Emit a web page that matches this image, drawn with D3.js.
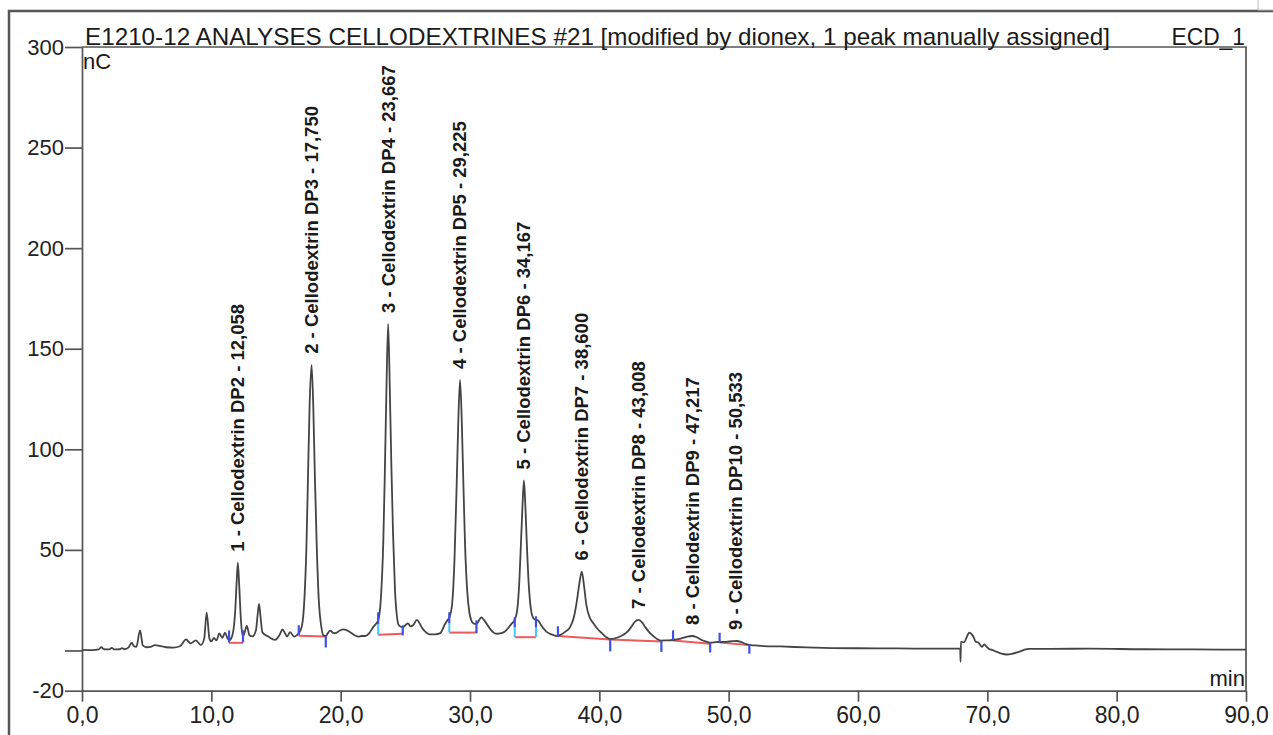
<!DOCTYPE html>
<html lang="fr">
<head>
<meta charset="UTF-8">
<title>E1210-12 ANALYSES CELLODEXTRINES #21 - ECD_1</title>
<script src="https://cdnjs.cloudflare.com/ajax/libs/d3/7.8.5/d3.min.js"></script>
<style>
  html, body { margin: 0; padding: 0; background: #fff; }
  svg { display: block; font-family: Arial, "Liberation Sans", sans-serif; }
  .axis path, .axis line { stroke: #555; stroke-width: 1.7; }
  .axis text { fill: #222; }
</style>
</head>
<body>
<svg id="chart" width="1273" height="735"></svg>
<script>
const trace = [
  [0.0,0.3],[0.8,0.2],[1.3,0.6],[1.5,1.6],[1.7,0.6],[2.1,0.5],[2.3,1.3],[2.5,0.5],[2.9,0.6],[3.1,1.2],
  [3.3,0.6],[3.6,1.5],[3.84,3.9],[4.0,2.2],[4.2,1.8],[4.49,10],[4.7,2.5],[5.0,1.6],[5.3,1.8],[5.65,2.7],
  [6.0,2.3],[6.5,1.6],[7.06,1.4],[7.6,2.2],[8.04,5.5],[8.4,3.5],[8.8,5.0],[9.2,2.7],[9.45,6],[9.64,18.8],
  [9.85,6],[10.0,4.5],[10.2,6.2],[10.4,5.0],[10.62,8.5],[10.85,6.3],[11.06,8.8],[11.25,6],[11.37,5],[11.6,7],
  [11.85,20],[11.95,33],[12.05,43.6],[12.15,33],[12.28,16],[12.43,7],[12.55,8.5],[12.74,12.2],[12.95,7.5],[13.2,7],
  [13.45,10],[13.6,19],[13.69,23.1],[13.8,17],[13.95,9],[14.4,6.9],[14.93,5.3],[15.3,8],[15.5,10.5],[15.7,8.5],
  [15.85,6.9],[16.09,9.1],[16.4,6.9],[16.6,7.5],[16.76,8.5],[17.0,12],[17.2,26],[17.35,51],[17.47,85],[17.6,122],
  [17.75,142],[17.88,122],[18.0,88],[18.15,52],[18.3,26],[18.5,12],[18.67,7.5],[18.85,7.2],[19.0,8.5],[19.2,9.9],
  [19.4,8.8],[19.6,8.6],[19.9,9.8],[20.2,10.5],[20.5,10],[20.8,8.8],[21.1,7.5],[21.37,6.9],[21.6,7.2],[21.9,7.2],
  [22.2,8.5],[22.5,11.5],[22.66,12.7],[22.9,15],[23.1,25],[23.3,55],[23.42,90],[23.54,130],[23.67,162.3],[23.8,130],
  [23.92,92],[24.05,58],[24.2,30],[24.35,17],[24.46,13],[24.65,11.8],[24.8,11.6],[25.0,12.5],[25.2,13.5],[25.4,12],
  [25.6,12.5],[25.9,15.2],[26.1,13.5],[26.3,11.2],[26.6,9],[26.9,8],[27.3,8],[27.7,8.6],[28.07,13.2],[28.25,15],
  [28.4,16.4],[28.6,22],[28.8,45],[28.98,85],[29.1,115],[29.23,134.5],[29.36,115],[29.48,85],[29.62,52],[29.78,30],
  [29.95,19],[30.1,15],[30.26,13.5],[30.5,13.2],[30.7,15],[30.87,16.5],[31.1,15],[31.5,11.2],[31.8,9],[32.07,8.3],
  [32.4,8.6],[32.7,9.4],[33.0,11.5],[33.2,13.2],[33.46,15.2],[33.65,20],[33.82,35],[33.95,55],[34.06,72],[34.17,84.5],
  [34.28,72],[34.4,52],[34.55,32],[34.7,21],[34.9,16],[35.1,15.2],[35.29,14.8],[35.5,12.5],[35.9,9.4],[36.3,8],
  [36.7,7.2],[37.0,7.8],[37.4,9.5],[37.74,11.6],[38.05,17],[38.25,24],[38.45,33],[38.64,39.2],[38.82,32],[39.0,22.5],
  [39.25,16.5],[39.54,13.5],[39.85,10.8],[40.2,8.6],[40.5,6.8],[40.84,5.6],[41.3,6.2],[41.86,7.8],[42.2,9.5],[42.5,12],
  [42.8,14.6],[43.03,15.2],[43.3,14],[43.55,11.6],[43.9,8.8],[44.2,7],[44.5,5.6],[44.8,4.9],[45.2,5],[45.7,5.2],
  [46.3,5.9],[46.8,6.9],[47.15,7.2],[47.5,6.7],[47.8,5.6],[48.2,4.5],[48.57,3.9],[49.0,4.1],[49.3,4.2],[49.8,4.3],
  [50.3,4.6],[50.63,4.7],[51.0,4.1],[51.4,3.0],[52.0,2.5],[52.7,2.2],[54.0,2.0],[56.0,1.5],[58.0,1.2],[60.0,1.1],
  [63.0,1.0],[66.0,0.9],[67.9,0.9],[67.93,-5.6],[67.96,4.4],[68.2,4.0],[68.4,6.5],[68.6,8.9],[68.8,8.0],[68.95,6.5],
  [69.1,4.4],[69.3,4.0],[69.5,2.3],[69.6,1.8],[69.75,3],[69.9,2.2],[70.1,0.9],[70.4,0.2],[70.7,-0.6],[71.1,-1.6],
  [71.5,-2.0],[71.9,-1.7],[72.3,-1.0],[72.8,0.2],[73.2,0.8],[75,0.8],[78,0.9],[82,0.6],[86,0.5],[90,0.4]
];

// pics identifiés
const peakNames = [
  "1 - Cellodextrin DP2 - 12,058", "2 - Cellodextrin DP3 - 17,750", "3 - Cellodextrin DP4 - 23,667",
  "4 - Cellodextrin DP5 - 29,225", "5 - Cellodextrin DP6 - 34,167", "6 - Cellodextrin DP7 - 38,600",
  "7 - Cellodextrin DP8 - 43,008", "8 - Cellodextrin DP9 - 47,217", "9 - Cellodextrin DP10 - 50,533"
];
const peakTimes   = [12.058, 17.750, 23.667, 29.225, 34.167, 38.600, 43.008, 47.217, 50.533];
const peakHeights = [43.6, 142, 162.3, 134.5, 84.5, 39.2, 15.2, 7.2, 4.7];

// lignes de base d'intégration (rouge)
const baseStartT = [11.37, 16.76, 22.9, 28.4, 33.46, 36.8, 40.84, 45.7, 49.3];
const baseStartV = [3.8, 7.3, 7.8, 8.9, 6.6, 7.2, 5.4, 5.0, 3.9];
const baseEndT   = [12.45, 18.85, 24.8, 30.5, 35.1, 40.84, 44.8, 48.57, 51.6];
const baseEndV   = [3.8, 6.9, 8.3, 8.9, 6.6, 5.4, 4.4, 3.4, 2.7];

// repères de début/fin (bleu) : temps, bas, haut, ligne de base
const markT  = [11.37, 12.45, 16.76, 18.85, 22.9, 24.8, 28.4, 30.5, 33.46, 35.1, 36.8, 40.84, 44.8, 45.7, 48.57, 49.3, 51.6];
const markLo = [4, 4, 7.5, 1.5, 13, 7.5, 13.5, 8.6, 11.6, 11.5, 7, -0.5, -0.7, 5.2, -1, 4, -1.6];
const markHi = [10, 10, 12.5, 7, 19, 12.5, 19, 15, 16.5, 17, 12, 5.6, 4.5, 10, 3.9, 8.8, 3];
const markBase = [3.8, 3.8, 7.3, 6.9, 7.8, 8.3, 8.9, 8.9, 6.6, 6.6, 7.2, 5.4, 4.4, 5.0, 3.4, 3.9, 2.7];

const xMajor = [0, 10, 20, 30, 40, 50, 60, 70, 80, 90];
const yMajor = [-20, 0, 50, 100, 150, 200, 250, 300];
const yLabels = ["-20", "", "50", "100", "150", "200", "250", "300"];

const titleText = "E1210-12 ANALYSES  CELLODEXTRINES #21 [modified by dionex, 1 peak manually assigned]";
const channelText = "ECD_1";

// --- dessin ---
const svg = d3.select("#chart");
const x = d3.scaleLinear().domain([0, 90]).range([82, 1246]);
const y = d3.scaleLinear().domain([-20, 300]).range([690.7, 47]);

// cadre extérieur
svg.append("path")
  .attr("d", "M9,735 L9,11 L1273,11")
  .attr("fill", "none").attr("stroke", "#555").attr("stroke-width", 2.5);
svg.append("rect").attr("x", 1258).attr("y", -2).attr("width", 16).attr("height", 12)
  .attr("fill", "#fff").attr("stroke", "#bbb");

const squeeze = (sel, k) => sel.each(function () {
  const w = this.getComputedTextLength();
  if (w > 0) d3.select(this).attr("textLength", w * k).attr("lengthAdjust", "spacingAndGlyphs");
});

// axes
const gy = svg.append("g").attr("class", "axis").attr("transform", `translate(${x(0)},0)`);
gy.call(d3.axisLeft(y).tickValues(d3.range(-20, 301, 10)).tickSize(7).tickSizeOuter(0).tickFormat(""));
gy.call(d3.axisLeft(y).tickValues(yMajor).tickSize(17).tickSizeOuter(0).tickPadding(1)
  .tickFormat((d, i) => yLabels[i]));
gy.selectAll("text").attr("font-size", 22);

const gx = svg.append("g").attr("class", "axis").attr("transform", `translate(0,${y(-20)})`);
gx.call(d3.axisBottom(x).tickValues(d3.range(0, 90.1, 2.5)).tickSize(5).tickSizeOuter(0).tickFormat(""));
gx.call(d3.axisBottom(x).tickValues(xMajor).tickSize(11).tickSizeOuter(0).tickPadding(5)
  .tickFormat(d => d.toFixed(1).replace(".", ",")));
gx.selectAll("text").attr("font-size", 23);

// bords haut et droit
svg.append("path")
  .attr("d", `M${x(0)},${y(300)} L${x(90)},${y(300)} L${x(90)},${y(-20)}`)
  .attr("fill", "none").attr("stroke", "#555").attr("stroke-width", 1.7);

// titres
svg.append("text").attr("x", 85).attr("y", 45).attr("font-size", 24).attr("fill", "#1a1a1a")
  .attr("textLength", 1025).attr("lengthAdjust", "spacingAndGlyphs").text(titleText);
svg.append("text").attr("x", 1245).attr("y", 45).attr("font-size", 24).attr("fill", "#1a1a1a")
  .attr("text-anchor", "end").text(channelText).call(squeeze, 0.95);
svg.append("text").attr("x", 83).attr("y", 69).attr("font-size", 22).attr("fill", "#1a1a1a").text("nC");
svg.append("text").attr("x", 1245).attr("y", 686).attr("font-size", 22).attr("fill", "#1a1a1a")
  .attr("text-anchor", "end").text("min");

// lignes de base (rouge)
svg.append("g").selectAll("line").data(baseStartT).join("line")
  .attr("x1", d => x(d)).attr("y1", (d, i) => y(baseStartV[i]))
  .attr("x2", (d, i) => x(baseEndT[i])).attr("y2", (d, i) => y(baseEndV[i]))
  .attr("stroke", "#f05a5a").attr("stroke-width", 2);

// chute vers la ligne de base (cyan)
svg.append("g").selectAll("line").data(markT.filter((d, i) => markLo[i] > markBase[i] + 1)).join("line")
  .attr("x1", d => x(d)).attr("x2", d => x(d))
  .attr("y1", d => y(markBase[markT.indexOf(d)]))
  .attr("y2", d => y(markLo[markT.indexOf(d)]))
  .attr("stroke", "#3ec8ff").attr("stroke-width", 2);

// signal
const line = d3.line().x(d => x(d[0])).y(d => y(d[1])).curve(d3.curveMonotoneX);
svg.append("path").datum(trace).attr("d", line)
  .attr("fill", "none").attr("stroke", "#444").attr("stroke-width", 1.8);

// repères (bleu)
svg.append("g").selectAll("line").data(markT).join("line")
  .attr("x1", d => x(d)).attr("x2", d => x(d))
  .attr("y1", (d, i) => y(markLo[i])).attr("y2", (d, i) => y(markHi[i]))
  .attr("stroke", "#3d4fe6").attr("stroke-width", 2.2);

// étiquettes des pics
svg.append("g").selectAll("text").data(peakNames).join("text")
  .attr("transform", (d, i) => `translate(${x(peakTimes[i])},${y(peakHeights[i]) - 11}) rotate(-90)`)
  .attr("dy", "0.35em")
  .attr("font-size", 18.5).attr("font-weight", "bold").attr("fill", "#1a1a1a")
  .text(d => d);
</script>
</body>
</html>
